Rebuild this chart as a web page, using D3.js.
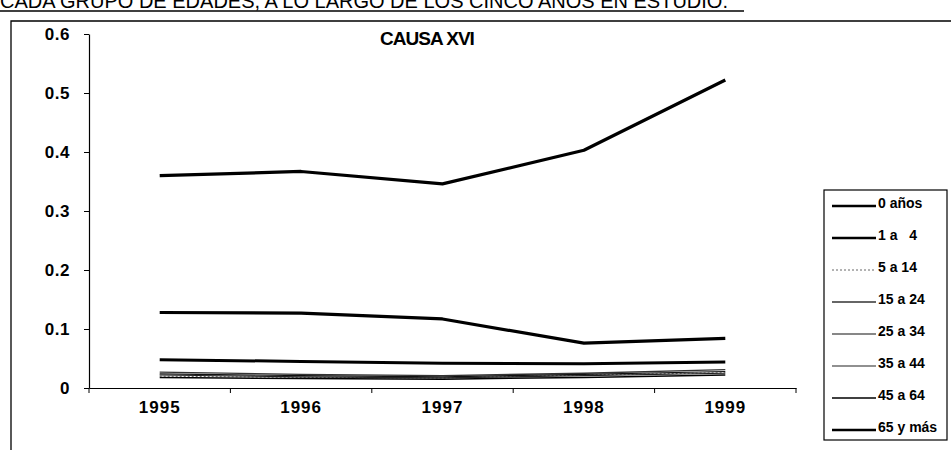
<!DOCTYPE html>
<html>
<head>
    <meta charset="utf-8">
    <script src="https://d3js.org/d3.v7.min.js"></script>
    <style>
        body { margin: 0; background: #fff; }
        text { font-family: "Liberation Sans", Arial, sans-serif; }
    </style>
</head>
<body>
    <div id="my_dataviz"></div>
    <script>
        // data
        var years = ["1995", "1996", "1997", "1998", "1999"];
        var groups = ["0 años", "1 a   4", "5 a 14", "15 a 24", "25 a 34", "35 a 44", "45 a 64", "65 y más"];
        var yTicks = [0, 0.1, 0.2, 0.3, 0.4, 0.5, 0.6];

        var v0anos = [0.360, 0.367, 0.346, 0.403, 0.522];
        var v1a4 = [0.128, 0.127, 0.117, 0.076, 0.084];
        var v5a14 = [0.020, 0.018, 0.017, 0.022, 0.026];
        var v15a24 = [0.027, 0.023, 0.021, 0.025, 0.031];
        var v25a34 = [0.024, 0.021, 0.019, 0.023, 0.028];
        var v35a44 = [0.022, 0.019, 0.017, 0.021, 0.025];
        var v45a64 = [0.018, 0.016, 0.015, 0.018, 0.022];
        var v65ymas = [0.048, 0.045, 0.042, 0.041, 0.044];

        var allValues = [v0anos, v1a4, v5a14, v15a24, v25a34, v35a44, v45a64, v65ymas];

        // line style per group (same order as groups)
        var styles = [
            { w: 3.2, c: "#000", dash: null },
            { w: 3.2, c: "#000", dash: null },
            { w: 1, c: "#666", dash: "2,2" },
            { w: 1.3, c: "#333", dash: null },
            { w: 1.2, c: "#111", dash: null },
            { w: 1.2, c: "#222", dash: null },
            { w: 1.5, c: "#000", dash: null },
            { w: 3, c: "#000", dash: null }
        ];

        var W = 951, H = 450;
        var svg = d3.select("#my_dataviz")
            .append("svg")
            .attr("width", W)
            .attr("height", H);

        // heading text, cut off at the top of the page
        svg.append("text")
            .attr("x", 0)
            .attr("y", 8)
            .style("font-size", "20px")
            .text("CADA GRUPO DE EDADES, A LO LARGO DE LOS CINCO AÑOS EN ESTUDIO.");
        svg.append("line")
            .attr("x1", 0).attr("x2", 744)
            .attr("y1", 11).attr("y2", 11)
            .attr("stroke", "#000").attr("stroke-width", 1.3);

        // outer frame
        svg.append("path")
            .attr("d", "M11,450 L11,21 L951,21")
            .attr("fill", "none")
            .attr("stroke", "#000")
            .attr("stroke-width", 1.3);

        var x = d3.scaleBand()
            .domain(years)
            .range([89, 796])
            .padding(0);

        var y = d3.scaleLinear()
            .domain([0, 0.6])
            .range([388, 34]);

        // Y axis
        var yAxis = svg.append("g")
            .attr("transform", "translate(89,0)")
            .call(d3.axisLeft(y).tickValues(yTicks).tickSize(5).tickSizeOuter(0)
                .tickFormat(function (d) { return d === 0 ? "0" : d3.format(".1f")(d); }));
        yAxis.select(".domain").attr("stroke-width", 1.2);
        yAxis.selectAll("text")
            .attr("x", -19)
            .style("font-size", "17px")
            .style("font-weight", "bold")
            .style("letter-spacing", "0.5px")
            .style("font-family", "'Liberation Sans', Arial, sans-serif")
            .attr("fill", "#000");

        // X axis: labels centred in bands, ticks on band edges
        var xAxis = svg.append("g")
            .attr("transform", "translate(0,388)")
            .call(d3.axisBottom(x).tickSize(0).tickSizeOuter(0));
        xAxis.select(".domain").attr("stroke-width", 1.2);
        xAxis.selectAll("text")
            .attr("y", 13)
            .style("font-size", "17px")
            .style("font-weight", "bold")
            .style("letter-spacing", "1px")
            .style("font-family", "'Liberation Sans', Arial, sans-serif")
            .attr("fill", "#000");
        xAxis.selectAll(".edge")
            .data(d3.range(years.length + 1))
            .enter().append("line")
            .attr("class", "edge")
            .attr("x1", function (i) { return 89 + i * x.step(); })
            .attr("x2", function (i) { return 89 + i * x.step(); })
            .attr("y1", 0).attr("y2", 5)
            .attr("stroke", "#000");

        // title
        svg.append("text")
            .attr("x", 427)
            .attr("y", 45)
            .attr("text-anchor", "middle")
            .style("font-size", "19px")
            .style("font-weight", "bold")
            .style("letter-spacing", "-1px")
            .text("CAUSA XVI");

        // lines
        var line = d3.line()
            .x(function (d, i) { return x(years[i]) + x.bandwidth() / 2; })
            .y(function (d) { return y(d); });

        allValues.forEach(function (vals, k) {
            svg.append("path")
                .datum(vals)
                .attr("fill", "none")
                .attr("stroke", styles[k].c)
                .attr("stroke-width", styles[k].w)
                .attr("stroke-dasharray", styles[k].dash)
                .attr("stroke-linejoin", "round")
                .attr("d", line);
        });

        // legend
        var legend = svg.append("g");
        legend.append("rect")
            .attr("x", 824).attr("y", 190)
            .attr("width", 123).attr("height", 250)
            .attr("fill", "#fff")
            .attr("stroke", "#000")
            .attr("stroke-width", 1.2);

        var items = legend.selectAll(".item")
            .data(groups)
            .enter().append("g")
            .attr("class", "item")
            .attr("transform", function (d, i) { return "translate(0," + (203 + i * 32) + ")"; });
        items.append("line")
            .attr("x1", 832).attr("x2", 876)
            .attr("y1", 3).attr("y2", 3)
            .attr("stroke", function (d, i) { return styles[i].c; })
            .attr("stroke-width", function (d, i) { return Math.min(styles[i].w, 2.6); })
            .attr("stroke-dasharray", function (d, i) { return styles[i].dash; });
        items.append("text")
            .attr("x", 878)
            .attr("y", 5)
            .style("font-size", "14px")
            .style("font-weight", "bold")
            .style("white-space", "pre")
            .attr("xml:space", "preserve")
            .text(function (d) { return d; });
    </script>
</body>
</html>
